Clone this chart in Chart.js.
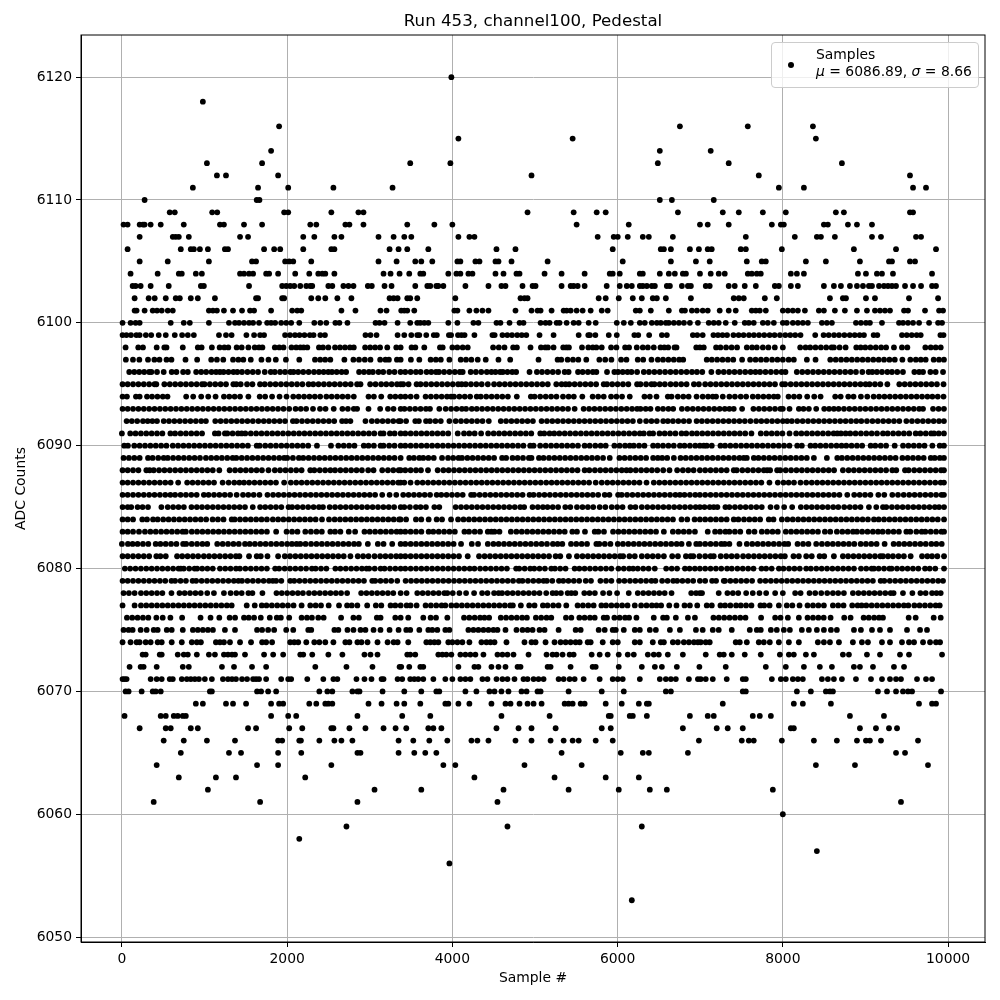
<!DOCTYPE html>
<html>
<head>
<meta charset="utf-8">
<title>Run 453, channel100, Pedestal</title>
<script src="https://cdn.jsdelivr.net/npm/chart.js@4"></script>
<style>
  body { margin: 0; background: #fff; }
  #wrap { position: relative; width: 1000px; height: 1000px; }
  #legend {
    position: absolute; left: 771px; top: 42px; width: 206px; height: 44px;
    background: rgba(255,255,255,0.8); border: 1px solid #ccc; border-radius: 4px;
    font: 13.9px "DejaVu Sans", sans-serif; color: #000;
  }
  #legend .dot { position: absolute; left: 16px; top: 19px; width: 6px; height: 6px; border-radius: 50%; background: #000; }
  #legend .line { position: absolute; left: 44px; white-space: nowrap; line-height: 17px; }
</style>
</head>
<body>
<div id="wrap">
  <canvas id="chart" width="1000" height="1000"></canvas>
  <div id="legend">
    <span class="dot"></span>
    <span class="line" style="top:3px">Samples</span>
    <span class="line" style="top:20px"><i>μ</i> = 6086.89, <i>σ</i> = 8.66</span>
  </div>
</div>
<script>
// sample numbers, one list per ADC level
const xTicks = [0, 2000, 4000, 6000, 8000, 10000];
const yTicks = [6050, 6060, 6070, 6080, 6090, 6100, 6110, 6120];

const s6120 = [3988];
const s6118 = [980];
const s6116 = [1903, 6754, 7576, 8364];
const s6115 = [4073, 5456, 8400];
const s6114 = [1806, 6511, 7127];
const s6113 = [1029, 1697, 3490, 3976, 6487, 7345, 8715];
const s6112 = [1150, 1260, 1891, 4958, 7709, 9539];
const s6111 = [859, 1648, 2013, 2560, 3276, 7952, 8255, 9576, 9733];
const s6110 = [275, 1632, 1665, 6511, 6657, 7164];
const s6109 = [579, 640, 1093, 1154, 1964, 2013, 2535, 2863, 2924, 4910, 5468, 5747, 5856, 6730, 7273, 7467, 7758, 8036, 8642, 8739, 9539, 9576];
const s6108 = [20, 69, 215, 255, 275, 348, 470, 749, 1187, 1235, 1478, 1697, 2280, 2353, 2705, 2754, 2924, 3454, 3782, 4000, 5504, 6135, 6997, 7091, 7345, 7867, 7976, 8012, 8497, 8545, 8788, 8897, 9079];
const s6107 = [215, 616, 652, 689, 810, 1430, 1527, 2195, 2329, 2572, 2657, 3106, 3289, 3418, 3503, 4073, 4206, 4267, 5759, 5953, 6002, 6123, 6305, 6378, 6669, 7552, 8145, 8412, 8461, 8630, 9079, 9188, 9612, 9673];
const s6106 = [69, 713, 834, 871, 944, 1041, 1247, 1284, 1721, 1843, 1916, 2195, 2535, 2572, 3240, 3349, 3454, 3709, 4534, 4764, 5941, 6523, 6560, 6645, 6875, 6984, 7091, 7139, 7491, 7552, 7988, 8860, 9370, 9854];
const s6105 = [215, 555, 1053, 1575, 1624, 1976, 2025, 2074, 2292, 3106, 3325, 3551, 3624, 3757, 4061, 4097, 4279, 4328, 4522, 4558, 4716, 5153, 6062, 6645, 6948, 7115, 7564, 7745, 7794, 8279, 8521, 8933, 9285, 9321, 9539, 9600];
const s6104 = [105, 433, 689, 725, 895, 968, 1430, 1478, 1539, 1588, 1746, 1782, 1891, 2098, 2268, 2377, 2426, 2462, 2572, 3167, 3252, 3361, 3478, 3612, 3648, 3951, 4049, 4097, 4194, 4243, 4522, 4619, 4776, 4813, 5116, 5322, 5601, 5905, 5941, 6026, 6269, 6305, 6511, 6620, 6693, 6790, 6827, 6997, 7127, 7224, 7297, 7576, 7624, 7685, 7733, 8097, 8170, 8255, 8909, 9006, 9139, 9200, 9333, 9806];
const s6103 = [130, 166, 227, 348, 567, 956, 992, 1539, 1940, 1989, 2037, 2086, 2159, 2232, 2280, 2304, 2499, 2547, 2681, 2742, 2803, 2977, 3025, 3179, 3264, 3551, 3697, 3733, 3806, 3830, 3891, 4158, 4437, 4594, 4643, 4849, 4971, 5007, 5322, 5432, 5468, 5517, 5601, 5868, 6026, 6111, 6172, 6269, 6305, 6354, 6414, 6451, 6596, 6633, 6778, 6851, 6887, 7067, 7115, 7345, 7418, 7539, 7673, 7903, 7952, 8097, 8182, 8497, 8618, 8703, 8812, 8897, 8970, 9042, 9079, 9164, 9224, 9273, 9321, 9370, 9479, 9576, 9673, 9806, 9854];
const s6102 = [154, 324, 397, 531, 652, 701, 834, 919, 1126, 1624, 1648, 1940, 1964, 2292, 2377, 2462, 2608, 2778, 3240, 3289, 3337, 3454, 3490, 3575, 4036, 4825, 4873, 4910, 5771, 5856, 6014, 6184, 6293, 6426, 6475, 6584, 6887, 7406, 7467, 7527, 7782, 7927, 8570, 8727, 8764, 9006, 9115, 9527, 9879];
const s6101 = [154, 178, 275, 373, 425, 482, 555, 616, 1053, 1102, 1150, 1235, 1345, 1454, 1551, 1600, 1806, 2061, 2122, 2171, 2657, 2827, 3130, 3203, 3381, 3418, 3454, 3539, 4024, 4061, 4206, 4291, 4364, 4437, 4764, 4958, 5031, 5068, 5201, 5347, 5383, 5432, 5504, 5577, 5674, 5808, 5880, 6220, 6269, 6402, 6620, 6778, 6815, 6899, 6960, 7030, 7091, 7236, 7345, 7430, 7624, 7673, 7721, 7794, 8000, 8061, 8121, 8182, 8267, 8436, 8497, 8630, 8751, 8897, 9018, 9115, 9176, 9236, 9297, 9467, 9515, 9721, 9891, 9939];
const s6100 = [8, 105, 166, 215, 591, 749, 822, 1053, 1296, 1369, 1418, 1478, 1539, 1588, 1660, 1758, 1806, 1855, 1928, 1989, 2049, 2147, 2329, 2402, 2474, 2584, 2633, 2730, 3070, 3118, 3179, 3337, 3490, 3575, 3612, 3660, 3709, 3951, 4061, 4255, 4315, 4534, 4582, 4692, 4813, 4861, 5068, 5128, 5177, 5262, 5298, 5383, 5468, 5529, 5650, 5735, 5990, 6075, 6160, 6269, 6329, 6414, 6475, 6523, 6584, 6620, 6681, 6742, 6803, 6875, 6972, 7103, 7164, 7224, 7309, 7418, 7539, 7588, 7648, 7758, 7818, 7891, 8000, 8048, 8121, 8182, 8242, 8303, 8473, 8533, 8594, 8885, 8945, 9006, 9054, 9200, 9406, 9455, 9515, 9576, 9649, 9770, 9879, 9927];
const s6099 = [8, 55, 110, 175, 215, 290, 355, 446, 531, 640, 729, 798, 871, 1175, 1260, 1328, 1507, 1600, 1673, 1721, 1975, 2035, 2095, 2150, 2210, 2275, 2320, 2402, 2458, 2948, 3009, 3082, 3337, 3418, 3503, 3575, 3600, 3684, 3775, 3812, 3958, 3985, 4068, 4110, 4148, 4267, 4485, 4512, 4606, 4665, 4722, 4785, 4840, 4895, 5055, 5225, 5529, 5645, 5665, 5731, 5893, 5990, 6203, 6250, 6382, 6536, 6596, 6911, 6964, 7030, 7160, 7215, 7270, 7325, 7402, 7465, 7525, 7590, 7650, 7712, 7775, 7840, 7900, 7965, 8030, 8090, 8150, 8214, 8392, 8493, 8555, 8620, 8680, 8745, 8810, 8870, 8930, 8982, 9099, 9144, 9442, 9500, 9560, 9620, 9669, 9907, 9945];
const s6098 = [45, 198, 255, 421, 514, 540, 737, 919, 965, 1089, 1183, 1240, 1288, 1389, 1450, 1531, 1608, 1660, 1701, 1851, 1905, 1956, 2053, 2110, 2160, 2199, 2244, 2385, 2434, 2499, 2580, 2640, 2700, 2760, 2807, 2944, 3005, 3065, 3125, 3212, 3321, 3374, 3506, 3552, 3660, 3850, 3883, 4000, 4060, 4125, 4186, 4493, 4562, 4631, 4736, 4781, 4946, 5072, 5125, 5157, 5225, 5342, 5380, 5411, 5569, 5646, 5700, 5743, 5808, 5921, 5986, 6091, 6139, 6232, 6305, 6366, 6438, 6519, 6565, 6612, 6689, 6713, 6952, 6996, 7043, 7192, 7245, 7313, 7380, 7446, 7564, 7628, 7685, 7758, 7825, 7903, 8000, 8210, 8275, 8331, 8395, 8460, 8525, 8590, 8618, 8687, 8760, 8889, 8942, 8998, 9060, 9125, 9190, 9250, 9345, 9442, 9507, 9725, 9790, 9850, 9911];
const s6097 = [48, 134, 211, 316, 393, 455, 540, 600, 770, 911, 1081, 1150, 1227, 1345, 1410, 1470, 1560, 1689, 1774, 1863, 1985, 2147, 2337, 2400, 2460, 2523, 2693, 2802, 2870, 2940, 3009, 3126, 3190, 3232, 3329, 3374, 3498, 3600, 3737, 3800, 3860, 3964, 4101, 4165, 4230, 4307, 4404, 4558, 4700, 5043, 5274, 5318, 5395, 5460, 5525, 5621, 5779, 5850, 5925, 6042, 6107, 6244, 6310, 6410, 6487, 6550, 6615, 6680, 6745, 6794, 7079, 7140, 7205, 7270, 7335, 7400, 7507, 7604, 7670, 7735, 7800, 7870, 7935, 8000, 8070, 8133, 8291, 8396, 8574, 8640, 8705, 8770, 8835, 8900, 8965, 9030, 9095, 9160, 9225, 9290, 9355, 9447, 9543, 9610, 9670, 9729, 9826, 9890, 9950];
const s6096 = [89, 150, 210, 270, 330, 357, 425, 506, 603, 660, 741, 798, 899, 960, 1020, 1085, 1140, 1187, 1231, 1290, 1350, 1397, 1454, 1520, 1584, 1648, 1729, 1802, 1851, 1915, 1975, 2040, 2078, 2134, 2195, 2260, 2325, 2385, 2442, 2498, 2543, 2600, 2660, 2714, 2871, 2930, 2990, 3038, 3106, 3163, 3236, 3300, 3373, 3430, 3495, 3559, 3616, 3688, 3745, 3802, 3838, 3900, 3965, 4030, 4090, 4125, 4222, 4285, 4350, 4417, 4473, 4522, 4578, 4611, 4667, 4725, 4772, 4934, 5023, 5085, 5150, 5215, 5280, 5359, 5407, 5521, 5577, 5640, 5700, 5743, 5872, 5961, 6006, 6062, 6120, 6168, 6236, 6317, 6380, 6445, 6510, 6575, 6640, 6705, 6770, 6835, 6900, 6960, 7025, 7135, 7220, 7285, 7350, 7415, 7480, 7545, 7610, 7669, 7725, 7790, 7855, 7920, 7985, 8032, 8169, 8235, 8300, 8365, 8430, 8495, 8560, 8625, 8690, 8755, 8820, 8885, 8962, 9038, 9083, 9139, 9200, 9265, 9321, 9385, 9454, 9592, 9650, 9697, 9786, 9850, 9939];
const s6095 = [8, 70, 135, 200, 265, 330, 395, 417, 514, 580, 645, 710, 775, 840, 905, 970, 1000, 1065, 1130, 1195, 1260, 1349, 1385, 1438, 1515, 1580, 1672, 1729, 1795, 1860, 1925, 1990, 2055, 2120, 2185, 2260, 2316, 2380, 2445, 2510, 2575, 2640, 2705, 2770, 2847, 2888, 3005, 3070, 3138, 3200, 3265, 3330, 3374, 3405, 3470, 3567, 3615, 3680, 3745, 3810, 3875, 3940, 4005, 4070, 4113, 4162, 4225, 4290, 4355, 4429, 4505, 4570, 4635, 4700, 4765, 4830, 4895, 4960, 5025, 5090, 5155, 5258, 5322, 5371, 5415, 5480, 5545, 5610, 5675, 5740, 5832, 5872, 5935, 6000, 6065, 6130, 6236, 6277, 6345, 6410, 6446, 6510, 6572, 6641, 6705, 6770, 6835, 6924, 6984, 7060, 7125, 7190, 7255, 7320, 7385, 7450, 7515, 7580, 7645, 7710, 7775, 7840, 7905, 7992, 8028, 8095, 8160, 8225, 8290, 8355, 8420, 8485, 8550, 8615, 8680, 8745, 8810, 8875, 8940, 9002, 9050, 9115, 9180, 9265, 9410, 9475, 9540, 9605, 9670, 9735, 9800, 9865, 9945];
const s6094 = [8, 61, 170, 215, 304, 365, 430, 495, 552, 778, 863, 960, 1045, 1134, 1235, 1300, 1365, 1430, 1531, 1668, 1734, 1818, 1908, 1993, 2074, 2140, 2205, 2270, 2335, 2400, 2475, 2539, 2605, 2670, 2735, 2807, 2985, 3050, 3139, 3248, 3310, 3374, 3430, 3495, 3567, 3676, 3740, 3805, 3870, 3935, 3984, 4020, 4085, 4150, 4215, 4295, 4344, 4410, 4475, 4540, 4605, 4672, 4780, 4950, 4995, 5063, 5130, 5195, 5260, 5339, 5407, 5470, 5573, 5698, 5765, 5832, 5921, 5986, 6054, 6147, 6325, 6390, 6471, 6608, 6653, 6729, 6795, 6860, 6956, 7030, 7095, 7152, 7192, 7273, 7353, 7420, 7490, 7556, 7636, 7700, 7765, 7830, 7891, 7939, 8069, 8135, 8200, 8295, 8380, 8457, 8634, 8700, 8792, 8856, 8945, 9022, 9099, 9165, 9230, 9295, 9360, 9425, 9490, 9555, 9620, 9685, 9750, 9810, 9875, 9945];
const s6093 = [8, 70, 135, 200, 265, 330, 395, 460, 525, 590, 655, 720, 785, 850, 915, 980, 1045, 1110, 1175, 1240, 1305, 1370, 1435, 1500, 1565, 1630, 1695, 1760, 1825, 1890, 1956, 2025, 2102, 2165, 2230, 2313, 2398, 2465, 2564, 2669, 2735, 2807, 2847, 2985, 3126, 3220, 3288, 3374, 3420, 3485, 3550, 3615, 3680, 3729, 3842, 3919, 3985, 4050, 4115, 4166, 4235, 4295, 4360, 4425, 4490, 4555, 4620, 4685, 4750, 4815, 4880, 4945, 5010, 5075, 5140, 5205, 5270, 5335, 5400, 5480, 5589, 5655, 5720, 5785, 5850, 5915, 5980, 6045, 6110, 6175, 6236, 6277, 6340, 6398, 6487, 6550, 6615, 6673, 6778, 6845, 6910, 6975, 7040, 7105, 7170, 7235, 7297, 7353, 7406, 7507, 7644, 7710, 7775, 7840, 7905, 7970, 8000, 8081, 8194, 8250, 8315, 8404, 8501, 8560, 8618, 8675, 8740, 8805, 8870, 8935, 9000, 9065, 9130, 9195, 9260, 9325, 9390, 9455, 9520, 9585, 9650, 9697, 9818, 9885, 9950];
const s6092 = [57, 120, 185, 255, 312, 369, 425, 506, 570, 635, 700, 765, 830, 895, 960, 1017, 1130, 1195, 1260, 1325, 1390, 1455, 1520, 1585, 1652, 1717, 1780, 1845, 1910, 1975, 2070, 2114, 2180, 2245, 2310, 2375, 2440, 2505, 2570, 2665, 2713, 2766, 2948, 3025, 3090, 3155, 3220, 3285, 3350, 3373, 3440, 3551, 3595, 3681, 3729, 3795, 3860, 3964, 4040, 4105, 4170, 4235, 4300, 4365, 4441, 4586, 4650, 4715, 4780, 4845, 4910, 4975, 5080, 5145, 5210, 5275, 5340, 5405, 5470, 5535, 5600, 5665, 5730, 5795, 5860, 5925, 5990, 6055, 6120, 6185, 6269, 6345, 6410, 6475, 6552, 6608, 6670, 6735, 6800, 6865, 6956, 7020, 7085, 7150, 7215, 7280, 7345, 7410, 7475, 7540, 7608, 7677, 7740, 7805, 7870, 7935, 8000, 8053, 8109, 8175, 8240, 8305, 8370, 8435, 8500, 8565, 8630, 8695, 8760, 8825, 8889, 8950, 9018, 9085, 9150, 9215, 9280, 9345, 9410, 9495, 9563, 9630, 9695, 9760, 9825, 9890, 9950];
const s6091 = [0, 101, 165, 230, 295, 360, 425, 490, 587, 644, 710, 775, 840, 905, 970, 1126, 1170, 1247, 1276, 1340, 1405, 1450, 1494, 1560, 1625, 1690, 1755, 1820, 1885, 1950, 2015, 2080, 2145, 2210, 2275, 2340, 2405, 2470, 2535, 2600, 2665, 2730, 2795, 2860, 2925, 2990, 3055, 3131, 3167, 3244, 3301, 3374, 3430, 3495, 3560, 3625, 3690, 3755, 3820, 3885, 3950, 4065, 4141, 4205, 4270, 4348, 4433, 4500, 4565, 4630, 4695, 4760, 4825, 4890, 4955, 5064, 5112, 5177, 5233, 5295, 5360, 5425, 5490, 5555, 5620, 5685, 5750, 5815, 5880, 5945, 6010, 6075, 6140, 6205, 6269, 6317, 6386, 6430, 6507, 6570, 6635, 6700, 6774, 6831, 6900, 6960, 7025, 7090, 7155, 7220, 7285, 7350, 7415, 7480, 7545, 7620, 7733, 7800, 7865, 7930, 7995, 8081, 8161, 8225, 8290, 8355, 8420, 8485, 8550, 8615, 8659, 8703, 8760, 8816, 8880, 8945, 9010, 9075, 9140, 9212, 9269, 9335, 9400, 9465, 9530, 9608, 9665, 9730, 9795, 9830, 9887, 9950];
const s6090 = [28, 73, 150, 215, 280, 345, 410, 475, 539, 616, 680, 745, 810, 875, 940, 1005, 1070, 1135, 1200, 1265, 1330, 1395, 1460, 1525, 1632, 1668, 1735, 1800, 1865, 1930, 1995, 2060, 2125, 2190, 2255, 2361, 2531, 2620, 2685, 2750, 2815, 2928, 2985, 3050, 3131, 3167, 3235, 3300, 3374, 3430, 3495, 3560, 3625, 3690, 3755, 3820, 3885, 3950, 4015, 4080, 4145, 4210, 4275, 4340, 4405, 4470, 4535, 4600, 4665, 4730, 4795, 4860, 4942, 4983, 5063, 5130, 5195, 5260, 5325, 5390, 5455, 5520, 5601, 5662, 5730, 5795, 5856, 5961, 6025, 6090, 6147, 6196, 6260, 6325, 6430, 6487, 6550, 6615, 6680, 6754, 6810, 6875, 6940, 6996, 7043, 7079, 7140, 7245, 7301, 7365, 7430, 7495, 7560, 7625, 7690, 7755, 7820, 7885, 7950, 8015, 8080, 8174, 8230, 8335, 8392, 8455, 8520, 8585, 8650, 8711, 8768, 8832, 8897, 8960, 9063, 9119, 9185, 9250, 9354, 9455, 9520, 9585, 9650, 9715, 9810, 9899, 9950];
const s6089 = [20, 85, 150, 215, 316, 372, 440, 506, 555, 620, 685, 750, 815, 880, 945, 1017, 1081, 1146, 1210, 1275, 1341, 1385, 1450, 1515, 1580, 1645, 1710, 1775, 1840, 1905, 1964, 2001, 2070, 2142, 2195, 2260, 2325, 2390, 2455, 2520, 2585, 2650, 2715, 2780, 2845, 2910, 2975, 3040, 3105, 3170, 3235, 3300, 3374, 3478, 3535, 3600, 3648, 3710, 3775, 3875, 3948, 4010, 4075, 4117, 4182, 4245, 4310, 4375, 4440, 4505, 4602, 4651, 4728, 4790, 4855, 4926, 4958, 5048, 5104, 5170, 5235, 5300, 5365, 5430, 5495, 5560, 5625, 5690, 5755, 5824, 5905, 6022, 6085, 6150, 6215, 6280, 6345, 6430, 6487, 6540, 6600, 6681, 6762, 6825, 6890, 6955, 7020, 7085, 7150, 7215, 7280, 7345, 7410, 7475, 7527, 7564, 7649, 7705, 7770, 7835, 7900, 7965, 8030, 8095, 8160, 8225, 8290, 8376, 8533, 8659, 8715, 8780, 8845, 8910, 8975, 9040, 9105, 9170, 9235, 9300, 9365, 9447, 9511, 9575, 9640, 9705, 9790, 9838, 9900, 9950];
const s6088 = [8, 70, 135, 200, 296, 336, 385, 450, 515, 580, 645, 710, 775, 840, 905, 970, 1035, 1100, 1179, 1304, 1370, 1435, 1500, 1565, 1630, 1695, 1774, 1851, 1915, 1980, 2045, 2110, 2175, 2280, 2329, 2395, 2460, 2523, 2580, 2645, 2710, 2775, 2840, 2905, 2981, 3046, 3151, 3220, 3285, 3350, 3374, 3430, 3495, 3560, 3620, 3705, 3822, 3891, 3955, 4020, 4085, 4150, 4215, 4280, 4345, 4410, 4475, 4540, 4605, 4670, 4735, 4800, 4865, 4930, 4995, 5060, 5125, 5190, 5255, 5320, 5385, 5450, 5515, 5601, 5658, 5725, 5790, 5855, 5920, 5985, 6050, 6107, 6155, 6220, 6285, 6350, 6415, 6480, 6552, 6628, 6721, 6790, 6855, 6920, 6996, 7060, 7125, 7190, 7255, 7320, 7406, 7442, 7510, 7575, 7640, 7705, 7770, 7810, 7846, 7931, 7968, 8035, 8100, 8165, 8230, 8295, 8360, 8425, 8490, 8555, 8620, 8727, 8796, 8860, 8925, 8990, 9055, 9120, 9185, 9250, 9325, 9373, 9479, 9523, 9590, 9655, 9720, 9785, 9850, 9915, 9950];
const s6087 = [8, 70, 135, 200, 265, 330, 395, 460, 525, 590, 681, 790, 855, 920, 985, 1050, 1115, 1219, 1292, 1360, 1422, 1478, 1540, 1605, 1670, 1735, 1800, 1865, 1964, 2045, 2110, 2175, 2240, 2305, 2370, 2435, 2500, 2565, 2630, 2695, 2760, 2825, 2890, 2955, 3020, 3085, 3150, 3215, 3280, 3345, 3374, 3418, 3494, 3575, 3640, 3705, 3770, 3835, 3900, 3965, 4030, 4095, 4160, 4225, 4290, 4355, 4420, 4485, 4550, 4615, 4680, 4745, 4810, 4875, 4940, 5005, 5070, 5136, 5201, 5265, 5330, 5395, 5460, 5525, 5590, 5655, 5735, 5808, 5875, 5940, 6005, 6070, 6135, 6200, 6265, 6350, 6438, 6505, 6570, 6635, 6700, 6765, 6830, 6895, 6960, 7025, 7090, 7155, 7220, 7285, 7350, 7415, 7480, 7545, 7610, 7675, 7740, 7838, 7939, 8008, 8070, 8135, 8214, 8283, 8350, 8415, 8480, 8545, 8610, 8675, 8740, 8805, 8870, 8935, 9000, 9065, 9130, 9195, 9260, 9325, 9390, 9455, 9520, 9585, 9650, 9715, 9780, 9845, 9910, 9950];
const s6086 = [8, 70, 135, 200, 265, 330, 395, 460, 525, 587, 644, 710, 775, 840, 905, 992, 1049, 1115, 1180, 1245, 1310, 1389, 1466, 1530, 1595, 1665, 1762, 1830, 1895, 1960, 2025, 2090, 2155, 2220, 2285, 2350, 2415, 2480, 2545, 2610, 2675, 2740, 2805, 2870, 2935, 3000, 3065, 3151, 3240, 3321, 3405, 3470, 3535, 3600, 3665, 3730, 3810, 3866, 3930, 3995, 4060, 4125, 4227, 4263, 4330, 4395, 4460, 4525, 4590, 4655, 4720, 4785, 4850, 4934, 4983, 5050, 5115, 5180, 5245, 5310, 5375, 5440, 5505, 5570, 5635, 5700, 5765, 5844, 5901, 6006, 6050, 6115, 6180, 6245, 6310, 6375, 6440, 6505, 6570, 6635, 6700, 6754, 6810, 6875, 6940, 6996, 7060, 7125, 7190, 7255, 7320, 7385, 7450, 7515, 7580, 7645, 7710, 7775, 7840, 7905, 7970, 8035, 8100, 8165, 8230, 8295, 8360, 8425, 8490, 8555, 8620, 8685, 8780, 8864, 8930, 8995, 9060, 9156, 9228, 9325, 9394, 9463, 9530, 9595, 9660, 9725, 9790, 9855, 9920, 9950];
const s6085 = [8, 70, 113, 190, 250, 316, 478, 555, 620, 685, 750, 842, 907, 970, 1035, 1100, 1165, 1230, 1295, 1360, 1425, 1490, 1584, 1673, 1735, 1800, 1865, 1930, 2017, 2061, 2125, 2190, 2255, 2320, 2385, 2434, 2515, 2580, 2645, 2710, 2775, 2840, 2905, 2970, 3035, 3100, 3165, 3230, 3295, 3374, 3418, 3486, 3559, 3615, 3680, 3782, 3842, 4040, 4105, 4170, 4235, 4300, 4365, 4430, 4495, 4560, 4625, 4690, 4755, 4821, 4869, 4970, 5035, 5096, 5152, 5215, 5280, 5367, 5428, 5508, 5575, 5640, 5705, 5783, 5852, 5929, 5995, 6060, 6156, 6216, 6293, 6360, 6425, 6490, 6555, 6620, 6685, 6750, 6815, 6880, 6945, 6996, 7052, 7115, 7164, 7208, 7305, 7353, 7420, 7485, 7550, 7615, 7680, 7745, 7851, 7927, 8016, 8113, 8218, 8285, 8350, 8415, 8480, 8545, 8610, 8671, 8743, 8810, 8875, 8940, 9042, 9131, 9212, 9252, 9320, 9385, 9450, 9515, 9580, 9645, 9710, 9775, 9840, 9891, 9951];
const s6084 = [8, 70, 135, 247, 304, 377, 433, 500, 565, 630, 695, 760, 825, 890, 955, 1020, 1098, 1162, 1230, 1329, 1365, 1430, 1495, 1560, 1625, 1690, 1755, 1827, 1891, 1955, 2020, 2085, 2150, 2215, 2280, 2345, 2422, 2507, 2575, 2640, 2705, 2770, 2835, 2900, 2965, 3030, 3095, 3160, 3225, 3290, 3355, 3373, 3440, 3559, 3624, 3713, 3810, 3875, 3984, 4069, 4135, 4200, 4265, 4330, 4395, 4460, 4525, 4590, 4655, 4720, 4785, 4850, 4915, 4980, 5045, 5110, 5175, 5240, 5305, 5370, 5435, 5500, 5565, 5630, 5695, 5760, 5825, 5890, 5955, 6020, 6085, 6150, 6215, 6280, 6345, 6410, 6475, 6540, 6605, 6670, 6774, 6843, 6932, 6996, 7060, 7125, 7190, 7255, 7320, 7406, 7462, 7530, 7595, 7660, 7725, 7830, 7887, 7988, 8055, 8120, 8185, 8250, 8315, 8380, 8445, 8510, 8575, 8640, 8705, 8770, 8835, 8900, 8965, 9030, 9103, 9160, 9225, 9290, 9355, 9420, 9485, 9550, 9615, 9680, 9745, 9810, 9875, 9951];
const s6083 = [8, 70, 135, 207, 279, 345, 410, 475, 540, 605, 670, 735, 774, 846, 910, 975, 1040, 1105, 1170, 1235, 1300, 1365, 1430, 1495, 1560, 1625, 1690, 1755, 1867, 1993, 2060, 2125, 2220, 2288, 2355, 2420, 2523, 2580, 2645, 2746, 2823, 2936, 3000, 3065, 3130, 3195, 3260, 3325, 3374, 3430, 3495, 3560, 3625, 3713, 3769, 3835, 3900, 3965, 4030, 4146, 4202, 4270, 4335, 4429, 4473, 4510, 4570, 4708, 4775, 4840, 4905, 4970, 5035, 5100, 5165, 5230, 5295, 5360, 5452, 5508, 5605, 5723, 5767, 5835, 5945, 6010, 6075, 6140, 6205, 6270, 6335, 6400, 6465, 6560, 6669, 6735, 6800, 6865, 6936, 7091, 7180, 7240, 7305, 7353, 7420, 7485, 7588, 7657, 7745, 7810, 7875, 7939, 8036, 8100, 8165, 8230, 8295, 8360, 8425, 8509, 8574, 8654, 8720, 8785, 8849, 8897, 8960, 9025, 9090, 9152, 9208, 9275, 9340, 9405, 9495, 9543, 9616, 9681, 9725, 9790, 9855, 9920, 9951];
const s6082 = [0, 73, 130, 190, 255, 320, 409, 466, 530, 595, 660, 741, 778, 845, 910, 975, 1033, 1154, 1220, 1285, 1350, 1415, 1490, 1547, 1610, 1675, 1740, 1805, 1870, 1935, 2000, 2058, 2114, 2159, 2223, 2290, 2355, 2420, 2485, 2550, 2615, 2680, 2745, 2810, 2868, 2977, 3098, 3167, 3272, 3374, 3430, 3495, 3560, 3625, 3690, 3755, 3820, 3885, 3950, 4015, 4105, 4235, 4311, 4429, 4497, 4560, 4625, 4690, 4755, 4820, 4885, 4950, 5015, 5080, 5145, 5217, 5274, 5331, 5436, 5500, 5565, 5630, 5743, 5779, 5845, 5913, 6002, 6065, 6130, 6195, 6260, 6325, 6390, 6455, 6520, 6585, 6650, 6715, 6774, 6863, 6952, 6996, 7060, 7125, 7190, 7255, 7297, 7353, 7475, 7564, 7630, 7695, 7760, 7825, 7890, 7955, 8020, 8065, 8178, 8245, 8310, 8404, 8473, 8540, 8605, 8670, 8735, 8800, 8865, 8942, 9006, 9070, 9135, 9232, 9341, 9405, 9470, 9535, 9600, 9665, 9730, 9798, 9858, 9923];
const s6081 = [8, 70, 135, 200, 265, 330, 417, 466, 531, 668, 730, 795, 860, 923, 992, 1055, 1120, 1185, 1250, 1315, 1380, 1422, 1539, 1632, 1681, 1762, 1891, 1972, 2035, 2100, 2165, 2230, 2295, 2360, 2425, 2490, 2555, 2620, 2685, 2766, 2855, 2920, 2985, 3058, 3126, 3190, 3255, 3320, 3374, 3430, 3495, 3560, 3625, 3690, 3755, 3820, 3885, 3950, 4015, 4080, 4186, 4323, 4390, 4455, 4520, 4585, 4650, 4715, 4780, 4845, 4910, 4975, 5039, 5105, 5170, 5250, 5306, 5411, 5508, 5575, 5640, 5705, 5770, 5835, 5900, 5965, 6030, 6067, 6143, 6208, 6293, 6360, 6425, 6490, 6560, 6661, 6730, 6827, 6883, 6916, 6990, 7060, 7125, 7164, 7248, 7315, 7380, 7445, 7519, 7584, 7650, 7715, 7780, 7845, 7910, 7975, 8024, 8129, 8194, 8283, 8350, 8445, 8501, 8618, 8727, 8790, 8855, 8920, 8985, 9050, 9115, 9180, 9212, 9273, 9333, 9400, 9465, 9547, 9685, 9749, 9806, 9870, 9951];
const s6080 = [36, 100, 165, 230, 295, 360, 425, 490, 555, 620, 685, 713, 749, 815, 880, 911, 972, 1035, 1100, 1187, 1251, 1315, 1381, 1429, 1495, 1560, 1625, 1690, 1755, 1855, 1903, 1970, 2035, 2100, 2165, 2230, 2300, 2345, 2410, 2475, 2584, 2645, 2710, 2775, 2840, 2905, 2961, 2993, 3060, 3131, 3179, 3245, 3310, 3374, 3430, 3495, 3560, 3625, 3690, 3755, 3820, 3885, 3950, 4015, 4080, 4145, 4210, 4267, 4336, 4400, 4465, 4530, 4595, 4660, 4772, 4809, 4875, 4942, 4991, 5055, 5120, 5197, 5241, 5305, 5370, 5480, 5537, 5600, 5665, 5730, 5795, 5860, 5925, 6010, 6075, 6140, 6188, 6244, 6310, 6375, 6450, 6588, 6655, 6720, 6815, 6871, 6935, 6996, 7060, 7125, 7190, 7255, 7325, 7382, 7450, 7515, 7580, 7645, 7742, 7798, 7865, 7952, 8008, 8075, 8140, 8205, 8283, 8339, 8405, 8470, 8535, 8600, 8665, 8730, 8795, 8861, 8946, 9010, 9075, 9103, 9160, 9225, 9290, 9317, 9382, 9445, 9510, 9575, 9640, 9721, 9778, 9845, 9951];
const s6079 = [8, 70, 135, 200, 265, 330, 395, 460, 525, 600, 644, 710, 775, 855, 899, 965, 1030, 1095, 1160, 1225, 1290, 1355, 1410, 1454, 1520, 1585, 1650, 1715, 1780, 1827, 1867, 1930, 2037, 2086, 2150, 2215, 2280, 2345, 2410, 2475, 2540, 2605, 2670, 2735, 2800, 2865, 2930, 3030, 3066, 3130, 3195, 3260, 3333, 3434, 3500, 3565, 3630, 3695, 3760, 3825, 3890, 3955, 4020, 4085, 4150, 4215, 4280, 4345, 4410, 4475, 4540, 4605, 4670, 4735, 4805, 4849, 4915, 4980, 5045, 5104, 5144, 5210, 5290, 5342, 5405, 5470, 5535, 5614, 5678, 5792, 5860, 5925, 6018, 6083, 6150, 6215, 6280, 6345, 6410, 6458, 6539, 6605, 6673, 6721, 6785, 6850, 6915, 6996, 7060, 7144, 7192, 7285, 7300, 7365, 7430, 7495, 7560, 7628, 7725, 7790, 7855, 7920, 7985, 8050, 8115, 8180, 8245, 8310, 8375, 8440, 8505, 8570, 8635, 8700, 8765, 8830, 8895, 8960, 9025, 9090, 9184, 9228, 9295, 9360, 9425, 9490, 9555, 9620, 9685, 9750, 9815, 9880, 9939];
const s6078 = [20, 85, 154, 231, 295, 360, 425, 490, 600, 697, 760, 825, 890, 955, 1033, 1114, 1235, 1316, 1385, 1450, 1531, 1580, 1701, 1871, 1935, 2000, 2065, 2130, 2191, 2264, 2330, 2395, 2460, 2525, 2590, 2653, 2726, 2896, 2960, 3025, 3090, 3155, 3220, 3285, 3374, 3446, 3575, 3640, 3705, 3770, 3835, 3903, 3939, 4005, 4085, 4166, 4263, 4360, 4425, 4505, 4560, 4602, 4667, 4730, 4795, 4860, 4925, 4990, 5055, 5136, 5213, 5258, 5314, 5395, 5440, 5488, 5597, 5660, 5725, 5824, 5901, 5994, 6135, 6244, 6310, 6375, 6440, 6505, 6570, 6653, 6891, 6950, 6996, 7022, 7224, 7329, 7395, 7460, 7556, 7636, 7717, 7798, 7907, 8000, 8149, 8215, 8323, 8392, 8465, 8537, 8606, 8670, 8739, 8848, 8915, 8980, 9045, 9110, 9175, 9240, 9305, 9341, 9454, 9568, 9665, 9729, 9806, 9860, 9911];
const s6077 = [8, 154, 231, 295, 360, 425, 490, 555, 620, 685, 750, 815, 880, 945, 1010, 1075, 1140, 1205, 1270, 1329, 1511, 1608, 1693, 1750, 1815, 1880, 1945, 2010, 2078, 2175, 2280, 2345, 2410, 2503, 2628, 2726, 2782, 2850, 2969, 3074, 3140, 3252, 3309, 3374, 3446, 3494, 3567, 3676, 3740, 3805, 3870, 3915, 3988, 4050, 4115, 4180, 4245, 4310, 4375, 4440, 4505, 4570, 4635, 4700, 4732, 4829, 4930, 4995, 5096, 5152, 5220, 5285, 5379, 5516, 5580, 5645, 5710, 5804, 5860, 5925, 5990, 6055, 6120, 6208, 6285, 6350, 6415, 6471, 6527, 6625, 6713, 6810, 6875, 6964, 7079, 7140, 7245, 7301, 7365, 7434, 7491, 7555, 7620, 7729, 7774, 7840, 7952, 8048, 8115, 8202, 8299, 8365, 8430, 8497, 8606, 8670, 8735, 8840, 8905, 8954, 9010, 9075, 9140, 9205, 9270, 9335, 9400, 9465, 9519, 9592, 9655, 9720, 9785, 9850, 9899];
const s6076 = [61, 125, 190, 255, 320, 417, 494, 587, 729, 952, 1073, 1179, 1304, 1370, 1478, 1535, 1600, 1681, 1790, 1875, 1924, 2025, 2175, 2240, 2300, 2377, 2442, 2653, 2802, 2868, 3086, 3131, 3309, 3374, 3466, 3648, 3737, 3802, 3939, 4141, 4205, 4270, 4335, 4388, 4445, 4586, 4650, 4715, 4780, 4845, 4902, 5011, 5075, 5140, 5197, 5375, 5440, 5537, 5600, 5665, 5723, 5832, 5872, 5961, 6025, 6090, 6139, 6228, 6438, 6551, 6596, 6705, 6851, 6936, 7160, 7225, 7290, 7355, 7420, 7485, 7548, 7737, 7907, 7972, 8061, 8194, 8299, 8365, 8430, 8495, 8578, 8743, 8820, 8978, 9040, 9105, 9164, 9212, 9523, 9608, 9826, 9911];
const s6075 = [20, 81, 130, 227, 300, 385, 433, 543, 603, 737, 859, 919, 980, 1041, 1102, 1247, 1369, 1636, 1697, 1770, 1843, 1989, 2074, 2256, 2292, 2572, 2620, 2730, 2803, 2888, 2948, 3046, 3130, 3240, 3349, 3442, 3490, 3600, 3709, 3757, 3818, 3915, 3964, 4194, 4255, 4315, 4376, 4437, 4497, 4546, 4643, 4776, 4849, 4910, 4971, 5055, 5116, 5286, 5492, 5553, 5771, 5844, 5941, 5978, 6075, 6208, 6269, 6390, 6463, 6633, 6754, 6948, 7030, 7152, 7224, 7382, 7600, 7685, 7733, 7855, 7927, 8012, 8085, 8230, 8315, 8412, 8497, 8582, 8654, 8861, 8945, 9079, 9176, 9297, 9503, 9661, 9745];
const s6074 = [8, 105, 178, 215, 288, 348, 433, 482, 603, 725, 846, 907, 956, 1138, 1187, 1235, 1308, 1430, 1563, 1697, 1746, 1818, 2037, 2086, 2134, 2232, 2329, 2390, 2462, 2560, 2705, 2754, 2851, 2900, 2973, 3094, 3216, 3289, 3337, 3466, 3685, 3733, 3782, 3830, 3951, 4000, 4061, 4121, 4206, 4352, 4412, 4461, 4510, 4655, 4873, 4958, 5007, 5128, 5237, 5310, 5371, 5431, 5492, 5541, 5638, 5674, 5820, 5941, 6002, 6208, 6269, 6426, 6523, 6560, 6669, 6729, 6802, 6863, 6924, 6972, 7006, 7067, 7115, 7430, 7479, 7564, 7709, 7770, 7842, 7952, 8073, 8194, 8424, 8497, 8570, 8679, 8848, 8957, 9030, 9200, 9297, 9442, 9527, 9588, 9697, 9782, 9854, 9903];
const s6073 = [251, 288, 458, 482, 676, 749, 798, 907, 1053, 1126, 1235, 1284, 1333, 1369, 1490, 1721, 1831, 1952, 2159, 2195, 2304, 2499, 2669, 2936, 3009, 3094, 3454, 3490, 3551, 3830, 3879, 3927, 3988, 4097, 4158, 4218, 4279, 4376, 4546, 4606, 4667, 4740, 4922, 5140, 5213, 5262, 5334, 5419, 5468, 5686, 5783, 5880, 6014, 6123, 6196, 6366, 6438, 6499, 6608, 6790, 7067, 7236, 7285, 7382, 7539, 7733, 7964, 8073, 8133, 8279, 8376, 8727, 8800, 9018, 9176, 9418, 9527, 9927];
const s6072 = [93, 227, 263, 421, 737, 810, 1211, 1357, 1575, 1746, 2341, 2718, 3033, 3361, 3381, 3478, 3612, 3648, 4073, 4267, 4315, 4473, 4558, 4643, 4789, 4825, 5153, 5189, 5431, 5698, 5735, 6014, 6293, 6451, 6536, 6717, 6990, 7309, 7794, 8036, 8255, 8448, 8594, 8860, 8933, 9091, 9345, 9467];
const s6071 = [8, 32, 57, 348, 421, 482, 579, 616, 725, 786, 834, 883, 932, 1004, 1089, 1223, 1284, 1333, 1381, 1454, 1515, 1588, 1624, 1660, 1746, 1928, 2013, 2049, 2244, 2438, 2560, 2608, 2839, 2936, 3021, 3143, 3167, 3337, 3393, 3490, 3539, 3587, 3648, 3770, 3915, 4000, 4097, 4158, 4218, 4364, 4425, 4534, 4606, 4667, 4752, 4861, 4910, 4983, 5043, 5104, 5286, 5347, 5419, 5480, 5589, 5783, 5941, 6002, 6062, 6269, 6511, 6584, 6645, 6705, 6863, 6972, 7006, 7067, 7152, 7321, 7515, 7552, 7867, 7976, 8036, 8121, 8182, 8242, 8473, 8545, 8618, 8715, 8885, 9067, 9200, 9297, 9370, 9430, 9624, 9733, 9806];
const s6070 = [45, 81, 239, 373, 409, 470, 1065, 1089, 1636, 1685, 1770, 1867, 2390, 2487, 2547, 2790, 2851, 2876, 3155, 3418, 3624, 3806, 3842, 4158, 4291, 4449, 4510, 4594, 4679, 4837, 4898, 5031, 5068, 5407, 5808, 6075, 6584, 6645, 7515, 7552, 8170, 8339, 8521, 8570, 8606, 9151, 9261, 9370, 9454, 9515, 9564, 9915];
const s6069 = [895, 980, 1260, 1345, 1503, 1806, 1903, 1952, 2268, 2353, 2462, 2499, 2547, 2985, 3143, 3325, 3418, 3612, 3915, 3951, 4073, 4206, 4473, 4643, 4704, 4813, 4910, 4983, 5080, 5359, 5407, 5456, 5553, 5601, 5856, 6050, 6257, 6354, 6378, 7273, 8133, 8242, 8582, 9648, 9806, 9854];
const s6068 = [32, 470, 531, 628, 676, 737, 774, 1806, 2013, 2110, 2851, 3393, 3733, 4594, 5177, 5893, 5917, 6147, 6184, 6354, 6875, 7091, 7164, 7636, 7721, 7855, 8812, 9224];
const s6067 = [215, 531, 591, 834, 919, 1527, 1624, 2025, 2183, 2535, 2560, 2754, 2948, 3167, 3313, 3442, 3709, 3770, 3867, 4534, 4801, 4958, 5250, 5808, 5917, 6790, 7200, 7333, 7515, 8097, 8133, 8933, 9127, 9285, 9382];
const s6066 = [506, 749, 1029, 1369, 1891, 1940, 2147, 2167, 2390, 2572, 2657, 2790, 3349, 3527, 3721, 3939, 4231, 4303, 4437, 4764, 4958, 5189, 5347, 5456, 5529, 5735, 5941, 6984, 7503, 7588, 7648, 7988, 8376, 8654, 8897, 9006, 9054, 9188, 9636];
const s6065 = [713, 1296, 1442, 1891, 2171, 2851, 2888, 3349, 3539, 3672, 3806, 5322, 6038, 6305, 6378, 6851, 9370, 9479];
const s6064 = [421, 1636, 1891, 2535, 3891, 4036, 4873, 5565, 8400, 8873, 9757];
const s6063 = [689, 1138, 1381, 2219, 4267, 5237, 5856, 6257];
const s6062 = [1041, 3058, 3624, 4619, 5407, 6014, 6390, 6596, 7879];
const s6061 = [385, 1673, 2851, 4546, 9430];
const s6060 = [8000];
const s6059 = [2718, 4667, 6293];
const s6058 = [2147];
const s6057 = [8412];
const s6056 = [3964];
const s6053 = [6172];

const levels = [
  [6120, s6120], [6118, s6118], [6116, s6116], [6115, s6115], [6114, s6114], [6113, s6113], [6112, s6112],
  [6111, s6111], [6110, s6110], [6109, s6109], [6108, s6108], [6107, s6107], [6106, s6106], [6105, s6105],
  [6104, s6104], [6103, s6103], [6102, s6102], [6101, s6101], [6100, s6100], [6099, s6099], [6098, s6098],
  [6097, s6097], [6096, s6096], [6095, s6095], [6094, s6094], [6093, s6093], [6092, s6092], [6091, s6091],
  [6090, s6090], [6089, s6089], [6088, s6088], [6087, s6087], [6086, s6086], [6085, s6085], [6084, s6084],
  [6083, s6083], [6082, s6082], [6081, s6081], [6080, s6080], [6079, s6079], [6078, s6078], [6077, s6077],
  [6076, s6076], [6075, s6075], [6074, s6074], [6073, s6073], [6072, s6072], [6071, s6071], [6070, s6070],
  [6069, s6069], [6068, s6068], [6067, s6067], [6066, s6066], [6065, s6065], [6064, s6064], [6063, s6063],
  [6062, s6062], [6061, s6061], [6060, s6060], [6059, s6059], [6058, s6058], [6057, s6057], [6056, s6056],
  [6053, s6053]
];

let points = [];
levels.forEach(([adc, samples]) => {
  samples.forEach(s => points.push({ x: s, y: adc }));
});

const font = { family: '"DejaVu Sans", sans-serif', size: 13.9 };

// top and right spines, chart.js only draws the left and bottom ones
const frame = {
  id: 'frame',
  afterDraw(chart) {
    const { ctx, chartArea: a } = chart;
    ctx.save();
    ctx.strokeStyle = '#000';
    ctx.lineWidth = 1;
    ctx.strokeRect(a.left, a.top, a.right - a.left, a.bottom - a.top);
    ctx.restore();
  }
};

new Chart(document.getElementById('chart'), {
  type: 'scatter',
  data: {
    datasets: [{
      label: 'Samples',
      data: points,
      pointRadius: 2.9,
      pointBorderWidth: 0,
      pointHoverRadius: 2.9,
      backgroundColor: '#000',
      borderColor: '#000'
    }]
  },
  options: {
    responsive: false,
    animation: false,
    layout: { padding: { left: 0, right: 15, top: 0, bottom: 0 } },
    plugins: {
      legend: { display: false },
      tooltip: { enabled: false },
      title: {
        display: true,
        text: 'Run 453, channel100, Pedestal',
        fullSize: false,
        color: '#000',
        font: { family: font.family, size: 16.67, weight: 'normal', lineHeight: 1.2 },
        padding: { top: 11.5, bottom: 3.5 }
      }
    },
    scales: {
      x: {
        type: 'linear',
        min: -495,
        max: 10447,
        afterBuildTicks: s => { s.ticks = xTicks.map(v => ({ value: v })); },
        afterFit: s => { s.height = 58; },
        grid: { color: '#b0b0b0', lineWidth: 1, tickColor: '#000', tickLength: 5 },
        border: { color: '#000', width: 1 },
        ticks: { color: '#000', font: font, padding: 4, maxRotation: 0, autoSkip: false, callback: v => String(v) },
        title: { display: true, text: 'Sample #', color: '#000', font: font, padding: { top: 13, bottom: 13 } }
      },
      y: {
        type: 'linear',
        min: 6049.6,
        max: 6123.43,
        afterBuildTicks: s => { s.ticks = yTicks.map(v => ({ value: v })); },
        afterFit: s => { s.width = 81; },
        grid: { color: '#b0b0b0', lineWidth: 1, tickColor: '#000', tickLength: 5 },
        border: { color: '#000', width: 1 },
        ticks: { color: '#000', font: font, padding: 4, autoSkip: false, callback: v => String(v) },
        title: { display: true, text: 'ADC Counts', color: '#000', font: font, padding: { top: 13, bottom: 13 } }
      }
    }
  },
  plugins: [frame]
});
</script>
</body>
</html>
